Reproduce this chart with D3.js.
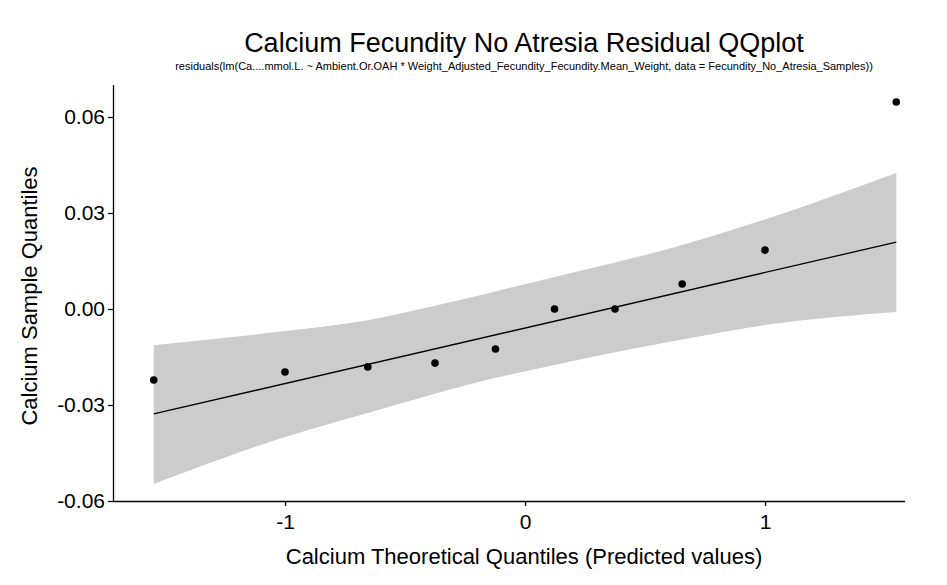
<!DOCTYPE html>
<html><head><meta charset="utf-8">
<script src="https://cdn.jsdelivr.net/npm/d3@7"></script>
<style>body{margin:0;background:#fff}text{font-family:Arial,"Liberation Sans",sans-serif}</style>
</head><body><svg width="947" height="585"></svg>
<script>
var theoretical = [-1.547, -1.0, -0.655, -0.375, -0.123, 0.123, 0.375, 0.655, 1.0, 1.547];
var sample = [-0.0222, -0.0197, -0.0181, -0.0169, -0.0125, 0.0, 0.0, 0.0078, 0.0184, 0.0647];
var bandUpper = [-0.0113, -0.0069, -0.0035, 0.0010, 0.0055, 0.0100, 0.0145, 0.0200, 0.0280, 0.0425];
var bandLower = [-0.0547, -0.0400, -0.0325, -0.0265, -0.0215, -0.0175, -0.0135, -0.0095, -0.0050, -0.0009];
var lineX = [-1.547, 1.547];
var lineY = [-0.0328, 0.0209];
var xTicks = [-1, 0, 1];
var yTicks = [-0.06, -0.03, 0, 0.03, 0.06];

var svg = d3.select('svg');
var x = d3.scaleLinear().domain([-1.0, 1.0]).range([285, 765]);
var y = d3.scaleLinear().domain([-0.06, 0.06]).range([501, 117]);

var band = theoretical.map(function(q, i){ return {q:q, u:bandUpper[i], l:bandLower[i]}; });
svg.append('path').datum(band)
  .attr('d', d3.area().x(function(d){return x(d.q);}).y0(function(d){return y(d.l);}).y1(function(d){return y(d.u);}).curve(d3.curveMonotoneX))
  .style('fill', '#cccccc');

svg.append('line')
  .attr('x1', x(lineX[0])).attr('x2', x(lineX[1]))
  .attr('y1', y(lineY[0])).attr('y2', y(lineY[1]))
  .style('stroke', '#000').style('stroke-width', 1.3);

svg.selectAll('circle.pt').data(theoretical).enter().append('circle')
  .attr('cx', function(d){return x(d);})
  .attr('cy', function(d, i){return y(sample[i]);})
  .attr('r', 3.8).style('fill', '#000');

var hy = function(f){ return function(d){ return f(d).replace('\u2212', '-'); }; };
var xAxis = svg.append('g').attr('transform', 'translate(0,501)')
  .call(d3.axisBottom(x).tickValues(xTicks).tickFormat(hy(d3.format('d'))).tickSize(5).tickSizeOuter(0));
xAxis.select('.domain').attr('d', 'M113,0.5H' + 905);
var yAxis = svg.append('g').attr('transform', 'translate(113,0)')
  .call(d3.axisLeft(y).tickValues(yTicks).tickFormat(hy(d3.format('.2f'))).tickSize(5).tickSizeOuter(0));
yAxis.select('.domain').attr('d', 'M0.5,85V501');
svg.selectAll('.tick text').style('font-size', '21px').style('fill', '#000');
svg.selectAll('.domain').style('stroke', '#000').style('stroke-width', 1.3);
svg.selectAll('.tick line').style('stroke', '#000').style('stroke-width', 1.3);
xAxis.selectAll('.tick text').attr('dy', '0.95em');

svg.append('text').attr('x', 524).attr('y', 52).attr('text-anchor', 'middle')
  .style('font-size', '27px').text('Calcium Fecundity No Atresia Residual QQplot');
svg.append('text').attr('x', 524).attr('y', 70).attr('text-anchor', 'middle')
  .style('font-size', '11px')
  .text('residuals(lm(Ca....mmol.L. ~ Ambient.Or.OAH * Weight_Adjusted_Fecundity_Fecundity.Mean_Weight, data = Fecundity_No_Atresia_Samples))');
svg.append('text').attr('x', 524).attr('y', 564).attr('text-anchor', 'middle')
  .style('font-size', '22px').text('Calcium Theoretical Quantiles (Predicted values)');
svg.append('text').attr('transform', 'translate(37,296) rotate(-90)').attr('text-anchor', 'middle')
  .style('font-size', '22px').text('Calcium Sample Quantiles');
</script></body></html>
